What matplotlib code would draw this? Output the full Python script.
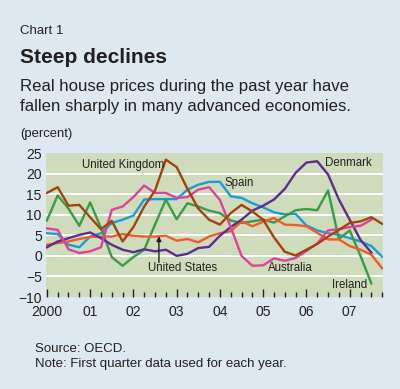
import numpy as np
import matplotlib
matplotlib.use("Agg")
import matplotlib.pyplot as plt

# quarterly observations, 2000Q1 .. 2007Q4 (percent change, real house prices)
quarters = np.arange(2000, 2008, 0.25)

uk = [15.3, 16.7, 12.2, 12.4, 9.4, 6.5, 8.5, 3.5, 7.0, 12.0, 15.9, 23.4, 21.6, 16.3, 11.5, 8.8,
      7.6, 10.4, 12.4, 10.8, 8.8, 4.5, 1.0, 0.1, 1.5, 2.9, 4.7, 6.3, 8.0, 8.4, 9.4, 7.8]
ireland = [8.6, 14.7, 11.5, 7.3, 13.0, 6.8, -0.3, -2.4, -0.3, 1.5, 7.6, 13.7, 8.9, 12.8, 12.0, 11.0,
           10.4, 8.6, 8.0, 8.4, 8.8, 8.1, 9.6, 11.1, 11.4, 11.1, 15.9, 4.1, 6.2, 0.0, -6.7, np.nan]
spain = [5.5, 5.3, 2.7, 2.1, 4.7, 5.5, 8.0, 8.8, 9.8, 13.7, 13.8, 13.8, 13.8, 16.1, 17.3, 18.0,
         18.0, 14.5, 14.1, 12.8, 11.8, 10.6, 10.1, 10.2, 7.4, 6.2, 5.5, 5.1, 4.3, 3.5, 2.4, -0.2]
australia = [6.7, 6.3, 1.6, 0.7, 1.1, 2.1, 11.2, 12.0, 14.3, 17.1, 15.3, 15.3, 14.1, 14.3, 16.1, 16.7,
             13.6, 7.0, 0.0, -2.4, -2.3, -0.6, -1.2, -0.5, 1.2, 3.0, 6.2, 6.5, 7.0, 7.3, 8.8, np.nan]
denmark = [2.1, 3.5, 4.3, 5.1, 5.7, 4.3, 2.7, 1.5, 0.9, 1.6, 1.1, 1.5, 0.0, 0.5, 1.9, 2.2,
           4.9, 7.0, 8.8, 11.0, 12.2, 13.7, 16.3, 20.2, 22.7, 23.0, 19.8, 13.7, 8.8, 3.9, 0.8, np.nan]
us = [2.7, 3.1, 3.5, 4.1, 4.6, 4.7, 4.7, 5.3, 4.9, 4.7, 4.7, 4.9, 3.7, 4.1, 3.3, 4.7,
      5.5, 6.0, 8.4, 7.2, 8.3, 9.2, 7.6, 7.5, 7.2, 5.6, 4.0, 4.0, 2.4, 1.5, 0.3, -3.0]

year_labels = ["2000", "01", "02", "03", "04", "05", "06", "07"]
y_ticks = [-10, -5, 0, 5, 10, 15, 20, 25]

bg = "#dee8f1"
plot_bg = "#cedcbb"
txt = "#231f20"
font = "Liberation Sans"

fig = plt.figure(figsize=(4, 3.89), dpi=100, facecolor=bg)
ax = fig.add_axes([0.115, 0.2365, 0.8425, 0.370])
ax.set_facecolor(plot_bg)

for v in y_ticks[1:-1]:
    ax.axhline(v, color="white", lw=1.4, zorder=1)

series = [
    (spain, "#1b9bd7"),
    (ireland, "#3a9a45"),
    (us, "#f15a29"),
    (denmark, "#5b2d90"),
    (australia, "#e0409b"),
    (uk, "#a3420f"),
]
for vals, col in series:
    ax.plot(quarters, vals, color=col, lw=1.7, zorder=3)

ax.set_xlim(1999.98, 2007.77)
ax.set_ylim(-10, 25)
ax.set_xticks(np.arange(2000, 2008))
ax.set_xticks(np.arange(2000, 2007.8, 0.25), minor=True)
ax.set_xticklabels(year_labels, fontsize=10, family=font, color=txt)
ax.set_yticks(y_ticks)
ax.set_yticklabels([str(v).replace("-", "\u2212") for v in y_ticks], fontsize=10, family=font, color=txt)
ax.tick_params(axis="x", which="major", direction="in", length=6, width=1, color=txt, pad=6)
ax.tick_params(axis="x", which="minor", direction="in", length=3.5, width=1, color=txt)
ax.tick_params(axis="y", length=0, pad=3)
for s in ax.spines.values():
    s.set_visible(False)

lab = dict(fontsize=8.3, family=font, color=txt, va="center", ha="left", zorder=5)
ax.text(2000.81, 22.2, "United Kingdom", **lab)
ax.text(2004.11, 17.8, "Spain", **lab)
ax.text(2006.42, 22.7, "Denmark", **lab)
ax.text(2005.10, -2.9, "Australia", **lab)
ax.text(2006.60, -7.1, "Ireland", **lab)
ax.text(2002.33, -2.9, "United States", **lab)
ax.annotate("", xy=(2002.59, 4.8), xytext=(2002.59, -1.6),
            arrowprops=dict(arrowstyle="-|>", color=txt, lw=1, mutation_scale=7,
                            shrinkA=0, shrinkB=0), zorder=5)

H = 389.0
fig.text(20 / 400, 1 - 34 / H, "Chart 1", fontsize=9.5, family=font, color=txt, va="baseline")
fig.text(20 / 400, 1 - 63 / H, "Steep declines", fontsize=15, family=font, weight="bold",
         color=txt, va="baseline")
fig.text(20 / 400, 1 - 90.5 / H, "Real house prices during the past year have", fontsize=12.1,
         family=font, color=txt, va="baseline")
fig.text(20 / 400, 1 - 111 / H, "fallen sharply in many advanced economies.", fontsize=12.1,
         family=font, color=txt, va="baseline")
fig.text(20 / 400, 1 - 137 / H, "(percent)", fontsize=9.4, family=font, color=txt, va="baseline")
fig.text(35 / 400, 1 - 352 / H, "Source: OECD.", fontsize=9.5, family=font, color=txt, va="baseline")
fig.text(35 / 400, 1 - 367.5 / H, "Note: First quarter data used for each year.", fontsize=9.5,
         family=font, color=txt, va="baseline")

fig.savefig("out.png", dpi=100, facecolor=bg)
